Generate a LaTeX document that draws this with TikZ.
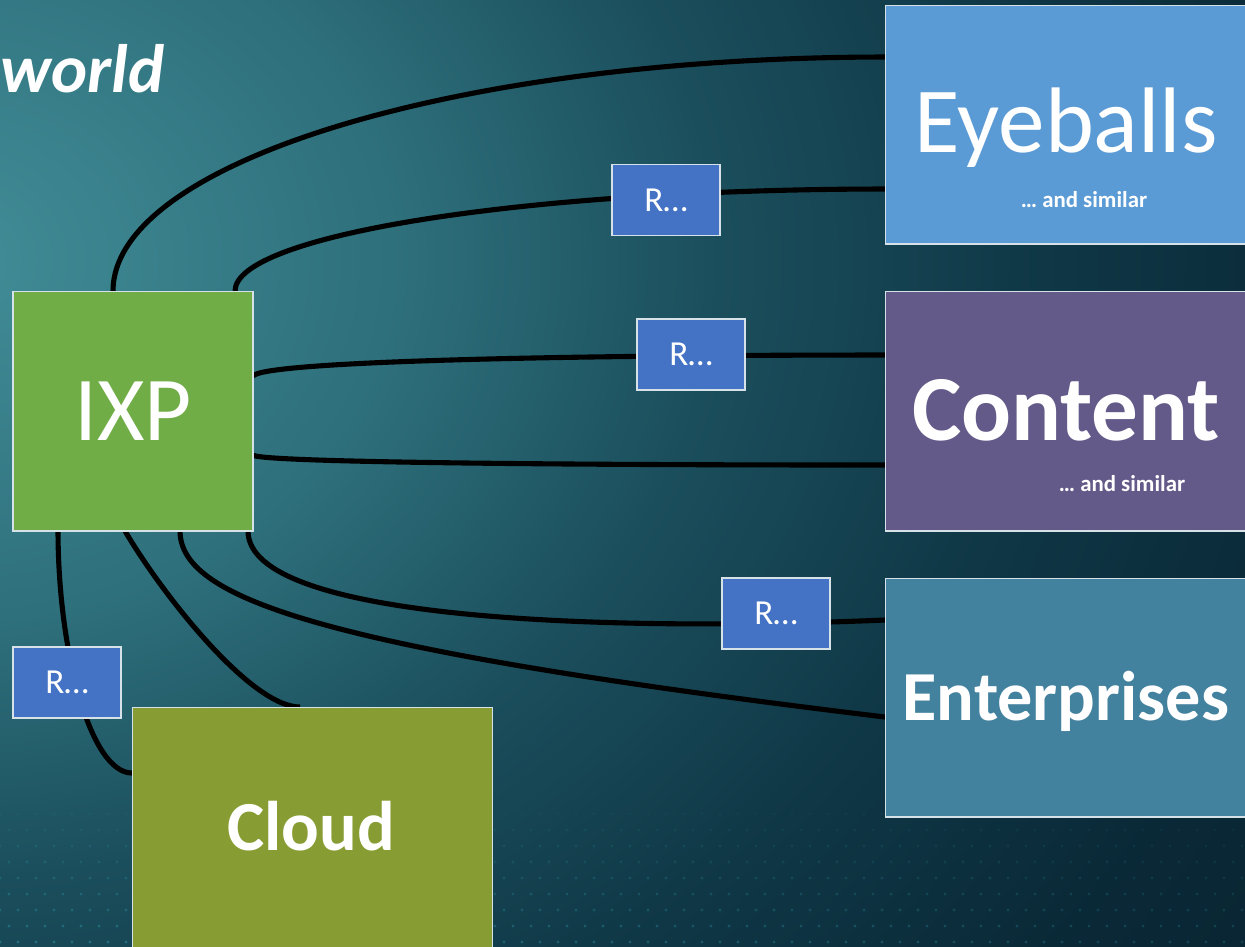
\documentclass[tikz,border=0pt]{standalone}
\usepackage{fontspec}
\setmainfont{Carlito}
\usetikzlibrary{calc}

% palette
\definecolor{glowA}{RGB}{66,142,152}
\definecolor{glowB}{RGB}{46,112,124}
\definecolor{glowC}{RGB}{27,78,92}
\definecolor{glowD}{RGB}{15,55,70}
\definecolor{glowE}{RGB}{10,40,54}
\definecolor{glowF}{RGB}{8,32,45}
\definecolor{dotc}{RGB}{45,150,165}
\definecolor{boxedge}{RGB}{214,226,232}
\definecolor{eyeblue}{RGB}{91,155,213}
\definecolor{contentpurple}{RGB}{100,90,137}
\definecolor{entteal}{RGB}{67,130,158}
\definecolor{ixpgreen}{RGB}{112,173,71}
\definecolor{cloudolive}{RGB}{135,157,51}
\definecolor{rblue}{RGB}{68,114,196}

% glow: the filled ellipse spans radii 0bp to 25bp of the shading
\pgfdeclareradialshading{backglow}{\pgfpoint{0bp}{0bp}}{%
  color(0bp)=(glowA); color(5.83bp)=(glowB); color(10bp)=(glowC);
  color(14.17bp)=(glowD); color(18.33bp)=(glowE); color(25bp)=(glowF);
  color(50bp)=(glowF)}

\pgfdeclarelayer{bg}
\pgfdeclarelayer{wires}
\pgfsetlayers{bg,wires,main}

\tikzset{
  box/.style={draw=boxedge, line width=0.6pt, rectangle, inner sep=0pt, outer sep=0pt},
  bigbox/.style={box, minimum width=7.24cm, minimum height=4.78cm},
  rbox/.style={box, fill=rblue, minimum width=2.16cm, minimum height=1.42cm,
    text=white, font=\fontsize{20}{24}\selectfont},
  bigtext/.style={text=white, inner sep=0pt, anchor=base},
  smalltext/.style={text=white, inner sep=0pt, anchor=base,
    font=\fontsize{13}{15}\selectfont\bfseries},
  wire/.style={line width=2.9pt, black},
}

\begin{document}
\begin{tikzpicture}[x=0.02cm, y=-0.02cm]
\useasboundingbox (0,0) rectangle (1245,947);

% backdrop: glow from the left and a faint dot field at the bottom
\begin{pgfonlayer}{bg}
  \fill[glowF] (0,0) rectangle (1245,947);
  \begin{scope}
    \clip (0,0) rectangle (1245,947);
    \shade[shading=backglow] (-62,260) ellipse [x radius=1950, y radius=1550];
  \end{scope}
  \foreach \row in {0,...,8} {
    \pgfmathsetmacro\yy{814+16*\row}
    \foreach \col in {0,...,69} {
      \pgfmathsetmacro\op{(0.10+0.05*\row)*(1-0.5*\col/70)}
      \fill[dotc, opacity=\op] ({\col*18+mod(\row,2)*9}, \yy) circle[radius=0.9pt];
    }
  }
\end{pgfonlayer}

\node[bigtext, anchor=base east, font=\fontsize{39}{46}\selectfont\bfseries\itshape]
  (title) at (165,92) {world};

% boxes
\node[bigbox, fill=eyeblue] (eye) at (1066,124.5) {};
\node[bigbox, fill=contentpurple, minimum height=4.8cm] (content) at (1066,411) {};
\node[bigbox, fill=entteal] (ent) at (1066,697.5) {};
\node[box, fill=ixpgreen, minimum width=4.8cm, minimum height=4.8cm] (ixp) at (133,411) {};
\node[box, fill=cloudolive, minimum width=7.22cm, minimum height=5.04cm] (cloud) at (312.5,833) {};

\node[bigtext, font=\fontsize{53}{62}\selectfont] (eyelbl) at (1066,152) {Eyeballs};
\node[smalltext] (eyesub) at (1084,207) {… and similar};
\node[bigtext, font=\fontsize{53}{62}\selectfont\bfseries] (contentlbl) at (1066,440) {Content};
\node[smalltext] (contentsub) at (1122,491) {… and similar};
\node[bigtext, font=\fontsize{40}{48}\selectfont\bfseries] (entlbl) at (1066,720) {Enterprises};
\node[bigtext, font=\fontsize{52}{60}\selectfont] (ixplbl) at (133,440) {IXP};
\node[bigtext, font=\fontsize{40}{48}\selectfont\bfseries] (cloudlbl) at (311,850) {Cloud};

% routers sitting on the links
\node[rbox] (r1) at (666,200) {R…};
\node[rbox] (r2) at (691,354.5) {R…};
\node[rbox] (r3) at (776,613.5) {R…};
\node[rbox] (r4) at (67,682.5) {R…};

% links from the exchange
\begin{pgfonlayer}{wires}
  \draw[wire] ($(ixp.north west)+(100,0)$) .. controls +(0,-129) and +(-426,0) .. ($(eye.north west)+(0,52)$);
  \draw[wire] ($(ixp.north west)+(222,0)$) .. controls +(0,-56) and +(-359,0) .. ($(eye.north west)+(0,184)$);
  \draw[wire] ($(ixp.north east)+(0,85)$) .. controls +(10,-14) and +(-349,0) .. ($(content.north west)+(0,64)$);
  \draw[wire] ($(ixp.north east)+(0,164)$) .. controls +(5,7) and +(-349,0) .. ($(content.north west)+(0,174)$);
  \draw[wire] ($(ixp.south west)+(235,0)$) .. controls +(0,89) and +(-285,12) .. ($(ent.north west)+(0,42)$);
  \draw[wire] ($(ixp.south west)+(167,0)$) .. controls +(0,69) and +(-555,-67) .. ($(ent.north west)+(0,139)$);
  \draw[wire] ($(ixp.south west)+(112,0)$) .. controls +(35,60) and +(-50,0) .. ($(cloud.north west)+(168,0)$);
  \draw[wire] ($(ixp.south west)+(45,0)$) .. controls +(0,119) and +(-42,0) .. ($(cloud.north west)+(0,66)$);
\end{pgfonlayer}
\end{tikzpicture}
\end{document}
